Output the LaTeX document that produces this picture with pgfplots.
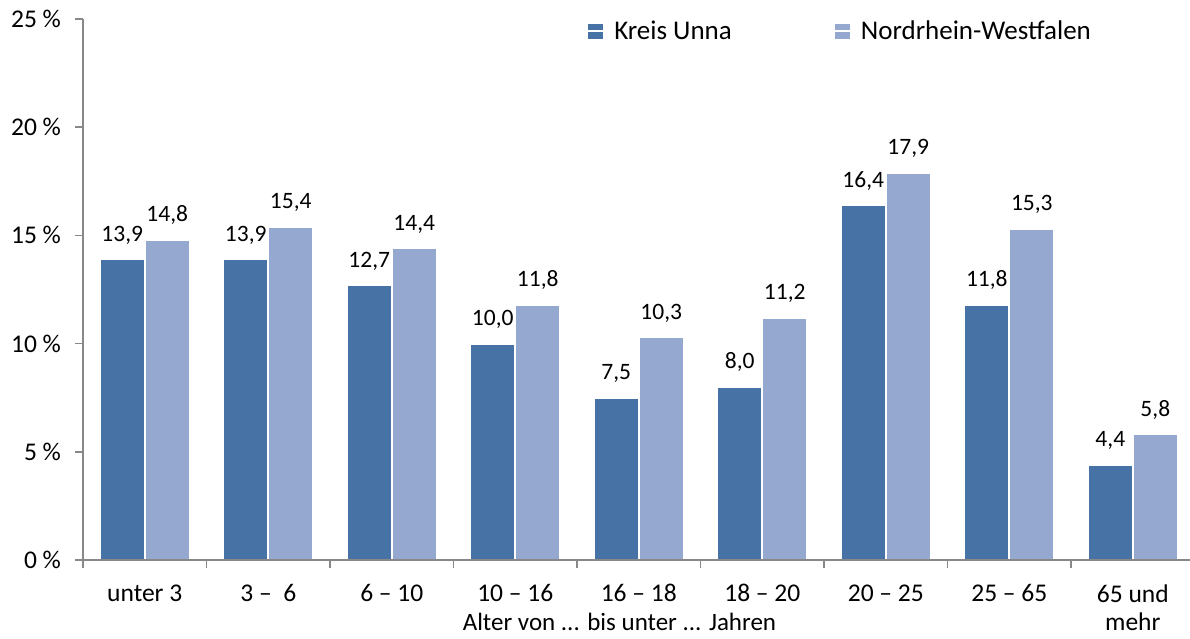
\documentclass[border=0pt]{standalone}
\usepackage{fontspec}
\setmainfont{Carlito}
\usepackage{pgfplots}
\pgfplotsset{compat=1.18}
\definecolor{kreis}{HTML}{4672A5}
\definecolor{nrw}{HTML}{95A9D0}
\definecolor{axgray}{HTML}{888888}
\begin{document}
\begin{tikzpicture}
\path[use as bounding box] (-83pt,-79pt) rectangle (1107pt,560pt);
\begin{axis}[
  scale only axis,
  width=1107pt, height=541pt,
  xmin=-0.5, xmax=8.4636,
  ymin=0, ymax=25,
  axis on top,
  axis x line*=bottom, axis y line*=left,
  axis line style={axgray, line width=1.5pt},
  every tick/.style={axgray, line width=1.5pt},
  tick align=outside,
  major tick length=7.5pt,
  ybar=0pt, bar width=45pt,
  xtick={-0.5,0.5,...,7.5},
  xticklabels={},
  extra x ticks={0,...,8},
  extra x tick labels={unter 3, {3 -- \ 6}, 6 -- 10, 10 -- 16, 16 -- 18, 18 -- 20, 20 -- 25, 25 -- 65, {65 und\\mehr}},
  extra x tick style={major tick length=0pt, tick style={draw=none},
     xticklabel style={align=center, font=\fontsize{25.5}{28}\selectfont, anchor=north, yshift=-21pt}},
  ytick={0,5,...,25},
  yticklabels={0 \%, 5 \%, 10 \%, 15 \%, 20 \%, 25 \%},
  yticklabel style={font=\fontsize{25.5}{30}\selectfont, xshift=-11pt},
  xlabel={Alter von ... bis unter ... Jahren},
  xlabel style={at={(axis description cs:0.4846,0)}, anchor=base, yshift=-70pt, font=\fontsize{25}{30}\selectfont},
  nodes near coords={\pgfmathprintnumber[fixed, fixed zerofill, precision=1, use comma, assume math mode=true]{\pgfplotspointmeta}},
  every node near coord/.append style={font=\fontsize{23.5}{27}\selectfont, anchor=base, yshift=18pt, black},
  legend columns=2,
  legend style={draw=none, fill=none, at={(0.4526,0.9778)}, anchor=west,
    font=\fontsize{27}{30}\selectfont,
    /tikz/every even column/.append style={column sep=100pt}},
  legend image code/.code={\fill[#1, draw=none] (0pt,-7.5pt) rectangle (15pt,7.5pt); \path (0pt,0pt) -- (23pt,0pt);},
]
\addplot[fill=kreis, draw=white, line width=2pt] coordinates {
(0,13.9) (1,13.9) (2,12.7) (3,10.0) (4,7.5) (5,8.0) (6,16.4) (7,11.8) (8,4.4)};
\addplot[fill=nrw, draw=white, line width=2pt] coordinates {
(0,14.8) (1,15.4) (2,14.4) (3,11.8) (4,10.3) (5,11.2) (6,17.9) (7,15.3) (8,5.8)};
\legend{Kreis Unna, Nordrhein-Westfalen}
\end{axis}
\end{tikzpicture}
\end{document}
